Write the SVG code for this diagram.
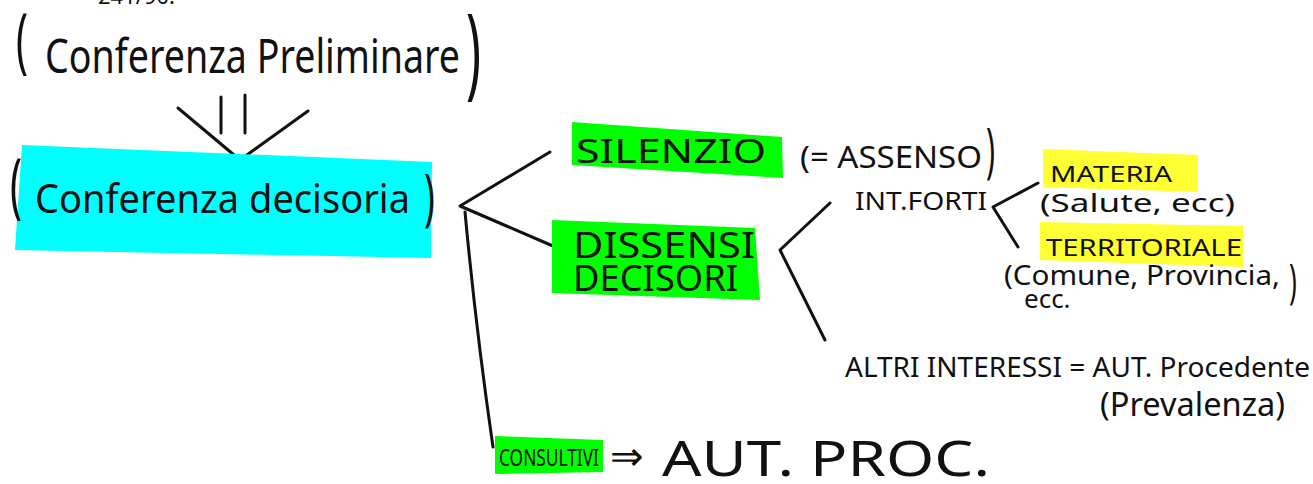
<svg xmlns="http://www.w3.org/2000/svg" width="1313" height="484" viewBox="0 0 1313 484">
  <style>
    text { font-family: "Noto Sans", "Liberation Sans", sans-serif; fill: #111; }
    .ln { fill: none; stroke: #111; stroke-width: 3; stroke-linecap: round; stroke-linejoin: round; }
    .cyan { fill: #00ffff; }
    .green { fill: #00ff00; }
    .yellow { fill: #ffff33; }
  </style>

  <!-- reference heading, cut at the top edge -->
  <text x="98" y="4" font-size="22">241/90.</text>

  <!-- connectors -->
  <g id="connectors">
    <!-- preliminare => decisoria (double bar with open V head) -->
    <line class="ln" x1="221" y1="97" x2="221" y2="133"/>
    <line class="ln" x1="245" y1="95" x2="245" y2="133"/>
    <path class="ln" d="M178,108 L240,160 L308,111"/>
    <!-- decisoria branches -->
    <path class="ln" d="M550,152 L460,206 L553,246"/>
    <path class="ln" d="M465,212 Q476,330 493,447"/>
    <!-- dissensi branches -->
    <path class="ln" d="M830,203 L780,250 L825,340"/>
    <!-- int. forti branches -->
    <path class="ln" d="M1038,183 L993,207 L1018,247"/>
  </g>

  <g id="conf-preliminare">
    <text transform="translate(16,65) scale(1,1.8)" font-size="40">(</text>
    <text x="45" y="73" font-size="48" textLength="415" lengthAdjust="spacingAndGlyphs">Conferenza Preliminare</text>
    <text transform="translate(466,86) scale(1,2)" font-size="50">)</text>
  </g>

  <g id="conf-decisoria">
    <polygon class="cyan" points="22,145 432,162 431,258 15,250"/>
    <text transform="translate(10,210) scale(1,1.8)" font-size="40">(</text>
    <text x="35" y="213" font-size="40" textLength="375" lengthAdjust="spacingAndGlyphs">Conferenza decisoria</text>
    <text transform="translate(424,218) scale(1,1.7)" font-size="36">)</text>
  </g>

  <g id="silenzio">
    <polygon class="green" points="572,122 782,137 783,178 572,165"/>
    <text x="576" y="163" font-size="32" textLength="190" lengthAdjust="spacingAndGlyphs">SILENZIO</text>
    <text x="800" y="168" font-size="30" textLength="182" lengthAdjust="spacingAndGlyphs">(= ASSENSO</text>
    <text transform="translate(986,171) scale(1,2)" font-size="30">)</text>
  </g>

  <g id="dissensi">
    <polygon class="green" points="552,220 755,228 760,300 552,293"/>
    <text x="573" y="258" font-size="36" textLength="182" lengthAdjust="spacingAndGlyphs">DISSENSI</text>
    <text x="573" y="291" font-size="36" textLength="165" lengthAdjust="spacingAndGlyphs">DECISORI</text>
  </g>

  <g id="int-forti">
    <text x="855" y="210" font-size="26" textLength="132" lengthAdjust="spacingAndGlyphs">INT.FORTI</text>
  </g>

  <g id="materia">
    <polygon class="yellow" points="1043,149 1198,155 1198,192 1043,187"/>
    <text x="1050" y="182" font-size="22" textLength="122" lengthAdjust="spacingAndGlyphs">MATERIA</text>
    <text x="1040" y="212" font-size="26" textLength="195" lengthAdjust="spacingAndGlyphs">(Salute, ecc)</text>
  </g>

  <g id="territoriale">
    <polygon class="yellow" points="1040,222 1243,226 1243,267 1040,260"/>
    <text x="1046" y="256" font-size="24" textLength="196" lengthAdjust="spacingAndGlyphs">TERRITORIALE</text>
    <text x="1004" y="285" font-size="28" textLength="276" lengthAdjust="spacingAndGlyphs">(Comune, Provincia,</text>
    <text transform="translate(1289,298) scale(1,1.8)" font-size="26">)</text>
    <text x="1024" y="308" font-size="26">ecc.</text>
  </g>

  <g id="altri-interessi">
    <text x="845" y="377" font-size="27" textLength="465" lengthAdjust="spacingAndGlyphs">ALTRI INTERESSI = AUT. Procedente</text>
    <text x="1100" y="416" font-size="32" textLength="185" lengthAdjust="spacingAndGlyphs">(Prevalenza)</text>
  </g>

  <g id="consultivi">
    <polygon class="green" points="495,436 603,440 603,472 495,474"/>
    <text x="499" y="466" font-size="24" textLength="100" lengthAdjust="spacingAndGlyphs">CONSULTIVI</text>
    <text x="610" y="470" font-size="40">⇒</text>
    <text x="662" y="476" font-size="50" textLength="328" lengthAdjust="spacingAndGlyphs">AUT. PROC.</text>
  </g>
</svg>
